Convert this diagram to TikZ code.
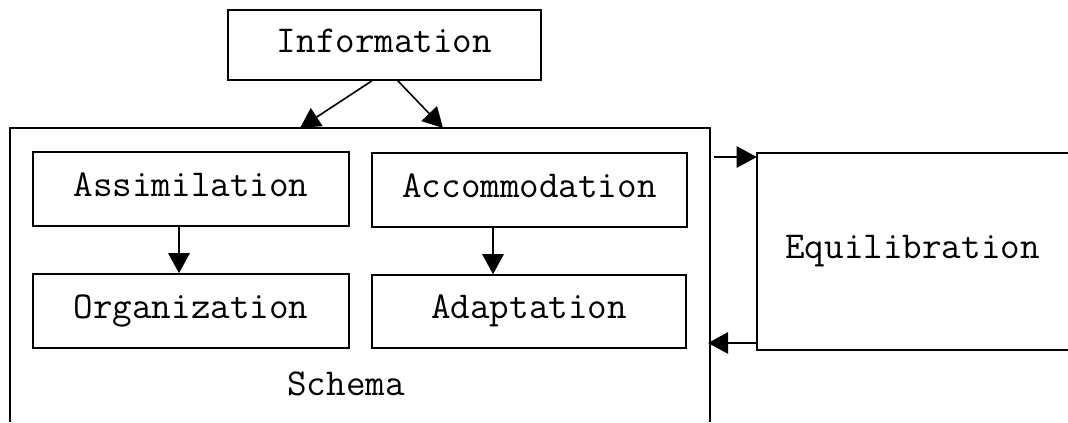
\documentclass[tikz,border=0pt]{standalone}
\usepackage{fontspec}
\usepackage{tikz}
\usetikzlibrary{positioning,arrows.meta,calc}

\tikzset{
  blockbox/.style={draw, line width=1.2pt, inner sep=0pt, text height=18pt, text depth=7pt,
    font=\ttfamily\fontsize{28.5}{32}\selectfont},
  plainlabel/.style={inner sep=0pt, font=\ttfamily\fontsize{28.5}{32}\selectfont},
  arr/.style={line width=1.2pt, -{Triangle[length=15pt,width=16pt]}},
  edge/.style={line width=1.2pt}
}

\begin{document}
\begin{tikzpicture}[x=0.75pt,y=0.75pt,yscale=-1,xscale=1]
        \useasboundingbox (0,0) rectangle (1068,422);
        % Top box
        \node[blockbox, minimum width=234.75pt, minimum height=52.5pt] (info) at (384.5,45) {Information};
        % Inner boxes of the schema
        \node[blockbox, minimum width=237pt, minimum height=55.5pt] (assim) at (191,189) {Assimilation};
        \node[blockbox, minimum width=237pt, minimum height=55.5pt] (organ) at (191,311) {Organization};
        \node[blockbox, minimum width=236.25pt, minimum height=55.5pt] (accom) at (529.5,190) {Accommodation};
        \node[blockbox, minimum width=235.5pt, minimum height=54.75pt] (adapt) at (529,311.5) {Adaptation};
        % Schema outline (bottom left open)
        \node[plainlabel] (schema) at (346,384) {Schema};
        \coordinate (schemaSW) at (10,422);
        \coordinate (schemaNW) at (10,128);
        \coordinate (schemaNE) at (710,128);
        \coordinate (schemaSE) at (710,422);
        \draw[edge] (schemaSW) -- (schemaNW) -- (schemaNE) -- (schemaSE);
        % Equilibration box, right side cut off
        \node[plainlabel, minimum width=233.25pt, minimum height=147.75pt] (equi) at (912.5,251.5) {Equilibration};
        \draw[edge] (equi.north east) -- (equi.north west) -- (equi.south west) -- (equi.south east);
        % Arrows
        \coordinate (inL) at (300,128);
        \coordinate (inR) at (443,128);
        \draw[arr] ([xshift=-9.4pt]info.south) -- (inL);
        \draw[arr] ([xshift=10pt]info.south) -- (inR);
        \draw[arr] (assim.south -| 179,0) -- (organ.north -| 179,0);
        \draw[arr] (accom.south -| 493,0) -- (adapt.north -| 493,0);
        \coordinate (toEqui) at (714,157);
        \coordinate (fromEqui) at (708,343);
        \draw[arr] (toEqui) -- (toEqui -| equi.west);
        \draw[arr] (fromEqui -| equi.west) -- (fromEqui);
\end{tikzpicture}
\end{document}
